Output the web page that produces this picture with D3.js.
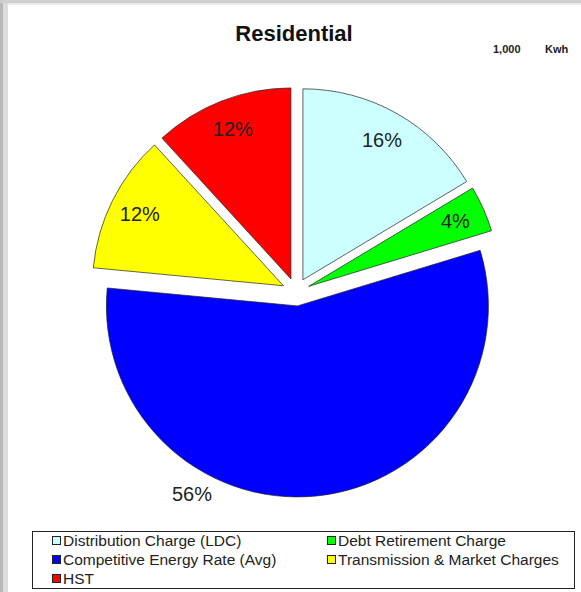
<!DOCTYPE html>
<html><head><meta charset="utf-8">
<script src="https://cdn.jsdelivr.net/npm/d3@7"></script>
<style>body{margin:0;background:#fff}svg{display:block}</style>
</head><body>
<script>
const categories = ["Distribution Charge (LDC)","Debt Retirement Charge","Competitive Energy Rate (Avg)","Transmission & Market Charges","HST"];
const values = [16.4, 3.9, 56.2, 11.7, 11.8];
const colors = ["#ccffff","#00ff00","#0000ff","#ffff00","#ff0000"];
const title = "Residential";
const subtitle = ["1,000","Kwh"];

const W=581,H=592;
const svg=d3.select("body").append("svg").attr("width",W).attr("height",H)
  .style("font-family","Arial, 'Liberation Sans', sans-serif");

// frame
svg.append("rect").attr("width",W).attr("height",H).attr("fill","#fff");
svg.append("rect").attr("x",0).attr("y",0).attr("width",3).attr("height",H).attr("fill","#b8b8b8");
svg.append("rect").attr("x",3).attr("y",0).attr("width",5).attr("height",H).attr("fill","#dcdcdc");
svg.append("rect").attr("x",0).attr("y",0).attr("width",W).attr("height",3).attr("fill","#cfcfcf");
svg.append("rect").attr("x",8).attr("y",3).attr("width",W-8).attr("height",2).attr("fill","#ececec");

svg.append("text").attr("x",294).attr("y",41).attr("text-anchor","middle")
  .attr("font-size",22).attr("font-weight","bold").attr("fill","#111").text(title);
svg.append("text").attr("x",493).attr("y",53).attr("font-size",11).attr("font-weight","bold").attr("fill","#222").text(subtitle[0]);
svg.append("text").attr("x",545).attr("y",53).attr("font-size",11).attr("font-weight","bold").attr("fill","#222").text(subtitle[1]);

const cx=296, cy=292, r=191, explode=14;
const pie=d3.pie().sort(null).value(d=>d)(values);
const arc=d3.arc().innerRadius(0).outerRadius(r);
const g=svg.append("g").attr("transform",`translate(${cx},${cy})`);
const maxV=d3.max(values);
pie.forEach((p,i)=>{
  const m=(p.startAngle+p.endAngle)/2;
  const ox=explode*Math.sin(m), oy=-explode*Math.cos(m);
  const sg=g.append("g").attr("transform",`translate(${ox},${oy})`);
  sg.append("path").attr("d",arc(p)).attr("fill",colors[i]).attr("stroke","#222").attr("stroke-width",0.7);
  let la=m, lr=r*0.84;
  if(values[i]===maxV){ la=p.startAngle+(p.endAngle-p.startAngle)*0.673; lr=r*1.13; }
  sg.append("text").attr("x",lr*Math.sin(la)).attr("y",-lr*Math.cos(la)).attr("dy","0.35em")
    .attr("text-anchor","middle").attr("font-size",20).attr("fill","#222")
    .text(Math.round(values[i])+"%");
});

// legend
const lg=svg.append("g");
lg.append("rect").attr("x",32.5).attr("y",531.5).attr("width",542).attr("height",57).attr("fill","#fff").attr("stroke","#222").attr("stroke-width",1);
const pos=[[52,541],[327,541],[52,560],[327,560],[52,579]];
categories.forEach((c,i)=>{
  const [x,y]=pos[i];
  lg.append("rect").attr("x",x+0.5).attr("y",y-4.5).attr("width",8).attr("height",8).attr("fill",colors[i]).attr("stroke","#222").attr("stroke-width",1);
  lg.append("text").attr("x",x+11).attr("y",y).attr("dy","0.35em").attr("font-size",15.5).attr("fill","#222").text(c);
});
</script>
</body></html>
